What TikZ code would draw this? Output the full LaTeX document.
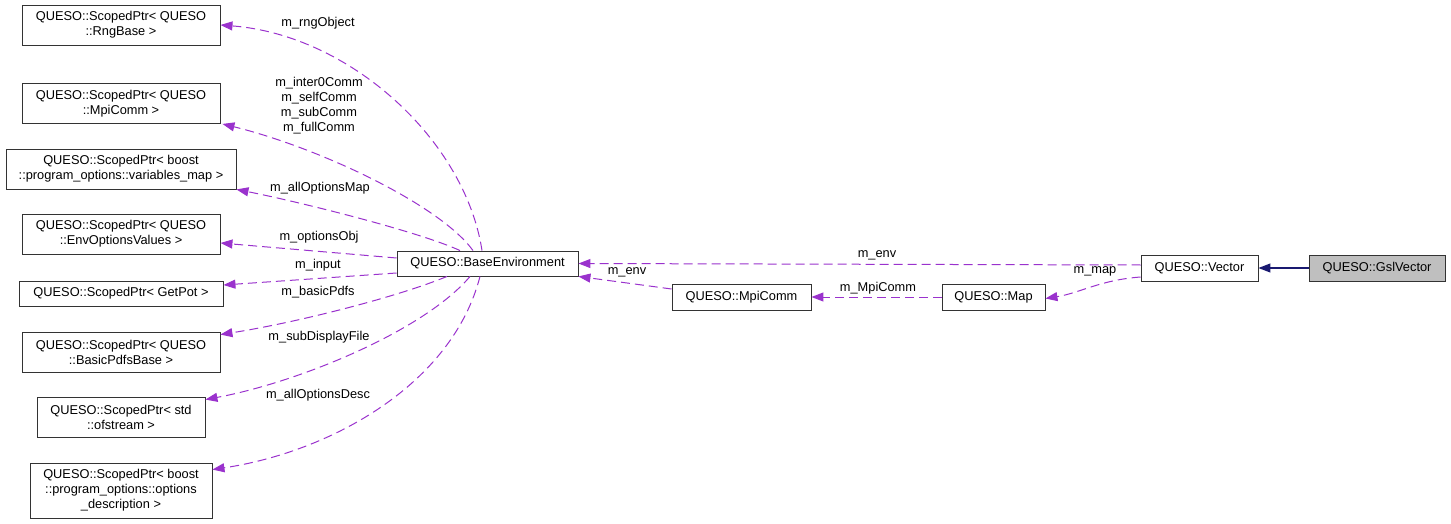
\documentclass[tikz,border=0pt]{standalone}
\usepackage{fontspec}
\setmainfont{Liberation Sans}
\usetikzlibrary{arrows.meta}
\definecolor{edgepurple}{HTML}{9A32CD}
\definecolor{edgenavy}{HTML}{191970}
\definecolor{nodegray}{HTML}{BFBFBF}
\tikzset{
  box/.style={draw=black!80, line width=0.9pt, fill=white, inner sep=0pt, align=center},
  hibox/.style={box, fill=nodegray},
  lbl/.style={inner sep=0pt, align=center},
  uses/.style={draw=edgepurple, line width=1pt, dash pattern=on 9pt off 5pt,
    -{Triangle[length=12pt,width=9pt,fill=edgepurple]}},
  inherit/.style={draw=edgenavy, line width=1.1pt,
    -{Triangle[length=12pt,width=9pt,fill=edgenavy]}},
}
\begin{document}
\begin{tikzpicture}[x=1pt,y=-1pt,font=\fontsize{12.8}{15}\selectfont]
\useasboundingbox (0,0) rectangle (1451,524);

% left boxes
\node[box, minimum width=198, minimum height=40] (n1) at (121,25) {QUESO::ScopedPtr< QUESO\\::RngBase >};
\node[box, minimum width=198, minimum height=40] (n2) at (121,103.5) {QUESO::ScopedPtr< QUESO\\::MpiComm >};
\node[box, minimum width=230, minimum height=40] (n3) at (121,169) {QUESO::ScopedPtr< boost\\::program\_options::variables\_map >};
\node[box, minimum width=198, minimum height=40] (n4) at (121,234) {QUESO::ScopedPtr< QUESO\\::EnvOptionsValues >};
\node[box, minimum width=204, minimum height=25] (n5) at (121,293.5) {QUESO::ScopedPtr< GetPot >};
\node[box, minimum width=198, minimum height=40] (n6) at (121,352) {QUESO::ScopedPtr< QUESO\\::BasicPdfsBase >};
\node[box, minimum width=168, minimum height=40] (n7) at (121,417) {QUESO::ScopedPtr< std\\::ofstream >};
\node[box, minimum width=182, minimum height=55] (n8) at (121,490.5) {QUESO::ScopedPtr< boost\\::program\_options::options\\\_description >};

% central / right boxes
\node[box, minimum width=181, minimum height=25] (be) at (487.5,263.5) {QUESO::BaseEnvironment};
\node[box, minimum width=139, minimum height=26] (mc) at (741.5,297) {QUESO::MpiComm};
\node[box, minimum width=103, minimum height=26] (mp) at (993.5,297) {QUESO::Map};
\node[box, minimum width=117, minimum height=26] (vec) at (1199.5,268) {QUESO::Vector};
\node[hibox, minimum width=136, minimum height=26] (gsl) at (1377,268) {QUESO::GslVector};

% edges from BaseEnvironment to the left boxes
\draw[uses] ([xshift=-5.5pt]be.north) .. controls (465,140) and (350,35) .. (n1.east);
\draw[uses] ([xshift=-14.5pt]be.north) .. controls (440,205) and (320,148) .. ([xshift=2pt]n2.south east);
\draw[uses] ([xshift=-27.5pt]be.north) .. controls (420,232) and (300,202) .. (n3.south east);
\draw[uses] ([yshift=5.5pt]be.west) -- ([yshift=-9pt]n4.east);
\draw[uses] ([yshift=-9.5pt]be.west) -- ([yshift=8.5pt]n5.east);
\draw[uses] ([xshift=-40.5pt]be.south) .. controls (400,296) and (300,322) .. ([yshift=-3pt]n6.north east);
\draw[uses] ([xshift=-17.5pt]be.south) .. controls (425,330) and (300,382) .. ([yshift=-3pt]n7.north east);
\draw[uses] ([xshift=-7.5pt]be.south) .. controls (452,385) and (330,452) .. ([yshift=-7pt]n8.north east);

% edges on the right
\draw[uses] ([yshift=3pt]vec.west) -- (be.east);
\draw[uses] ([yshift=8pt]mc.west) -- (be.south east);
\draw[uses] (mp.west) -- (mc.east);
\draw[uses] ([yshift=-9pt]vec.west) .. controls (1100,280) and (1080,293) .. ([yshift=-1.5pt]mp.east);
\draw[inherit] (gsl.west) -- (vec.east);

% labels
\node[lbl] (l1) at (318,23) {m\_rngObject};
\node[lbl] (l2) at (319,105.5) {m\_inter0Comm\\m\_selfComm\\m\_subComm\\m\_fullComm};
\node[lbl] (l3) at (320,188) {m\_allOptionsMap};
\node[lbl] (l4) at (319,237) {m\_optionsObj};
\node[lbl] (l5) at (318,265) {m\_input};
\node[lbl] (l6) at (318,292) {m\_basicPdfs};
\node[lbl] (l7) at (319,337) {m\_subDisplayFile};
\node[lbl] (l8) at (318,395) {m\_allOptionsDesc};
\node[lbl] (l9) at (877,255) {m\_env};
\node[lbl] (l10) at (627,272) {m\_env};
\node[lbl] (l11) at (878,288) {m\_MpiComm};
\node[lbl] (l12) at (1095,271) {m\_map};
\end{tikzpicture}
\end{document}
